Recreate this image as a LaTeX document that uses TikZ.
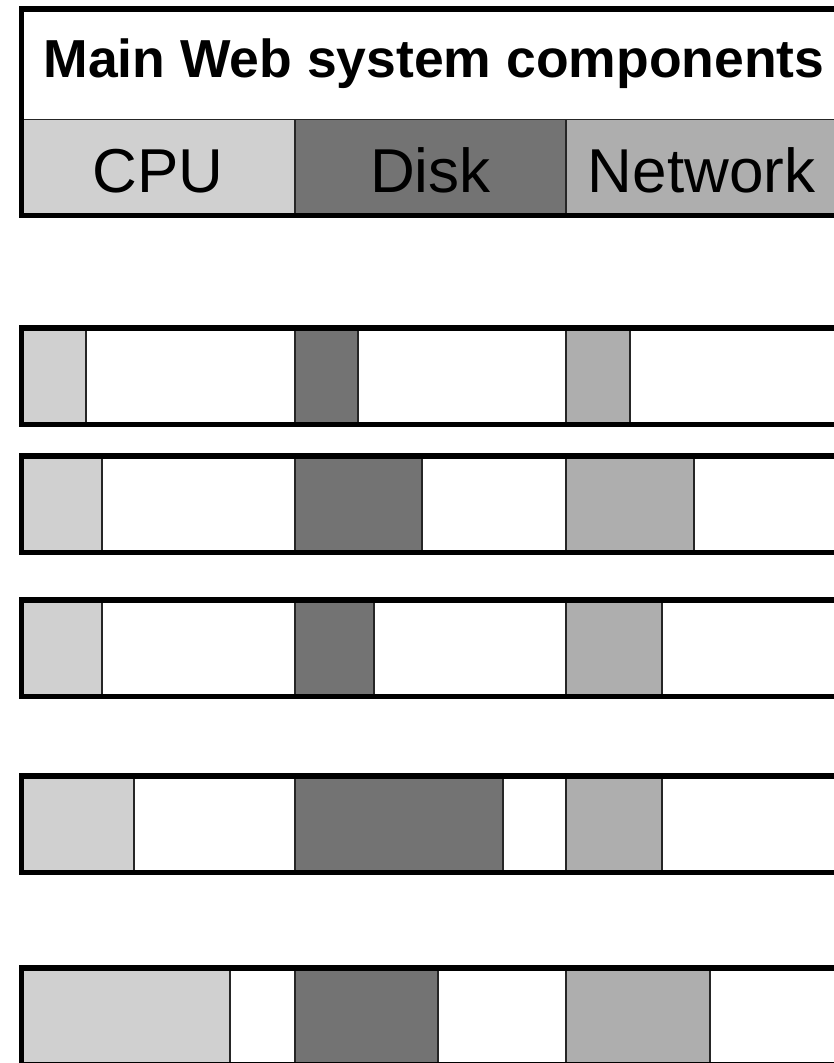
\documentclass[tikz,border=0pt]{standalone}
\usepackage{fontspec}
\setmainfont{Liberation Sans}
\definecolor{cpugris}{HTML}{D0D0D0}
\definecolor{discogris}{HTML}{737373}
\definecolor{redgris}{HTML}{AEAEAE}

\begin{document}
\begin{tikzpicture}[x=1pt, y=-1pt,
    fino/.style={draw=black!85, line width=1.3pt},
    celda/.style={fino, inner sep=0pt, outer sep=0pt, anchor=north west,
        minimum width=271pt, minimum height=96pt, text height=51pt,
        font=\fontsize{62}{70}\selectfont},
    marco/.style={draw=black, line width=5.8pt}]
    \useasboundingbox (0,0) rectangle (834,1063);

    % Titulo
    \node[font=\bfseries\fontsize{53.5}{60}\selectfont] (titulo) at (434,64) {Main Web system components};

    % Componentes
    \node[celda, fill=cpugris, minimum width=273.5pt] (cpu) at (21.5,119.5) {CPU};
    \node[celda, fill=discogris] (disco) at (cpu.north east) {Disk};
    \node[celda, fill=redgris] (red) at (disco.north east) {Network};
    \draw[marco] (21.5,9) rectangle (837,215.5);

    % Barras de uso
    \foreach \y/\c/\d/\n in {328/86/358/630, 456/102/422/694, 600/102/374/662,
                             776/134/503/662, 968/230/438/710} {
        \draw[fino] (21.5,\y) rectangle (837,\y+96.5);
        \draw[fino, fill=cpugris] (21.5,\y) rectangle (\c,\y+96.5);
        \draw[fino, fill=discogris] (295,\y) rectangle (\d,\y+96.5);
        \draw[fino, fill=redgris] (566,\y) rectangle (\n,\y+96.5);
        \draw[marco] (21.5,\y) rectangle (837,\y+96.5);
    }
\end{tikzpicture}
\end{document}
